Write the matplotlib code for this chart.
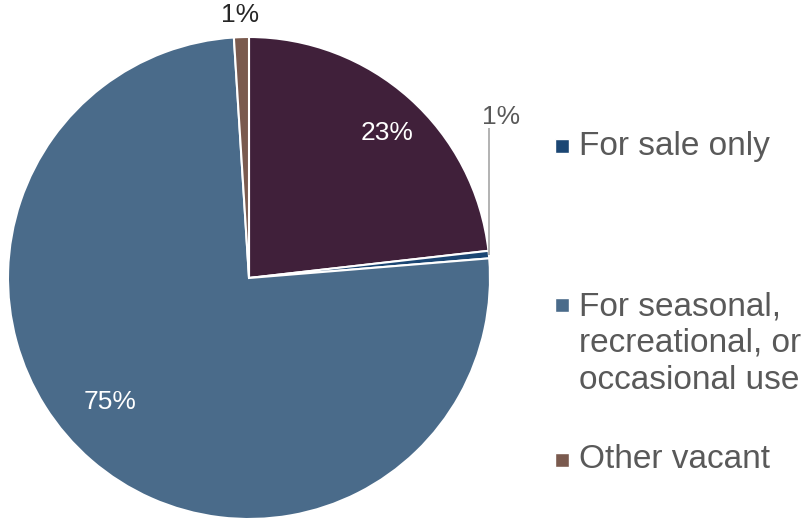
import numpy as np
import matplotlib
matplotlib.use("Agg")
import matplotlib.pyplot as plt
from matplotlib.patches import Rectangle

plt.rcParams["font.family"] = ["Liberation Sans", "DejaVu Sans"]

# vacant housing units by type, percent (drawn clockwise from 12 o'clock)
categories = ["For rent", "For sale only",
              "For seasonal, recreational, or occasional use", "Other vacant"]
shares = [23.2, 0.5, 75.3, 1.0]
colors = ["#40203A", "#1B4673", "#4A6B8A", "#7A5A4E"]
legend_names = ["For sale only",
                "For seasonal,\nrecreational, or\noccasional use",
                "Other vacant"]
legend_colors = ["#1B4673", "#4A6B8A", "#7A5A4E"]

W, H = 803, 523
fig = plt.figure(figsize=(W / 100, H / 100), dpi=100)

cx, cy, R = 249, 278, 241
ax = fig.add_axes([(cx - R) / W, (H - cy - R) / H, 2 * R / W, 2 * R / H])

wedges, _ = ax.pie(shares, colors=colors, startangle=90, counterclock=False,
                   radius=1, center=(0, 0), frame=False,
                   wedgeprops=dict(edgecolor="white", linewidth=1.5))
ax.set_xlim(-1, 1)
ax.set_ylim(-1, 1)
ax.set_aspect("auto")
ax.axis("off")


def pct(v):
    return f"{int(np.floor(v + 0.5))}%"


def to_data(px, py):
    return (px - cx) / R, (cy - py) / R


# percentage labels
ax.text(*to_data(387, 133), pct(shares[0]), color="white", fontsize=19,
        ha="center", va="center")
ax.text(*to_data(110, 402), pct(shares[2]), color="white", fontsize=19,
        ha="center", va="center")
ax.text(*to_data(240, 15), pct(shares[3]), color="#262626", fontsize=19,
        ha="center", va="center")
ax.text(*to_data(501, 117), pct(shares[1]), color="#595959", fontsize=19,
        ha="center", va="center")
lx0, ly0 = to_data(489, 255)
lx1, ly1 = to_data(489, 128)
ax.plot([lx0, lx1], [ly0, ly1], color="#A6A6A6", linewidth=1.2,
        clip_on=False, solid_capstyle="butt")

# legend drawn by hand, entries spread down the right side
square_y = [146, 305, 460]
sq = 14
for name, col, y in zip(legend_names, legend_colors, square_y):
    fig.patches.append(Rectangle(((562 - sq / 2) / W, (H - y - sq / 2) / H),
                                 sq / W, sq / H, transform=fig.transFigure,
                                 facecolor=col, edgecolor="white", linewidth=1))
    n = name.count("\n")
    fig.text(579 / W, (H - y - n * 38.5 / 2) / H, name, fontsize=24,
             color="#595959", ha="left", va="center", linespacing=1.25)

fig.savefig("out.png", dpi=100)
